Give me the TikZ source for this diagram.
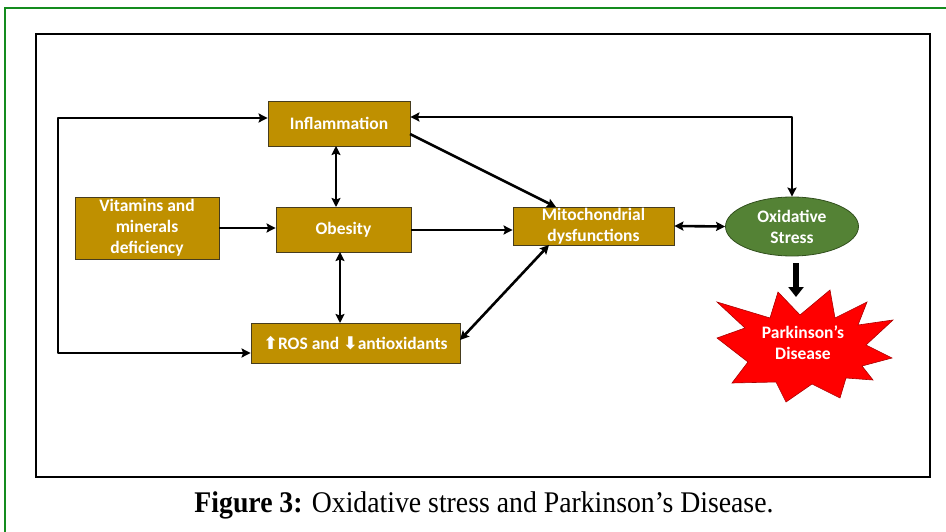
\documentclass[tikz,border=0pt]{standalone}
\usepackage{fontspec}
\setmainfont{Liberation Serif}
\newfontfamily\boxfont{Carlito}
\newfontfamily\symfont{DejaVu Sans}
\usetikzlibrary{arrows.meta,shapes.geometric}
\definecolor{goldbox}{RGB}{191,144,0}
\definecolor{boxedge}{RGB}{70,60,30}
\definecolor{ovalgreen}{RGB}{84,130,53}
\definecolor{ovaledge}{RGB}{50,80,30}
\definecolor{framegreen}{RGB}{20,140,30}
\definecolor{starred}{RGB}{255,0,0}
\definecolor{staredge}{RGB}{170,0,0}
\tikzset{
  boxtext/.style={text=white, font=\boxfont\bfseries\fontsize{17.5}{21}\selectfont, align=center},
  goldnode/.style={boxtext, draw=boxedge, line width=0.8pt, fill=goldbox, inner sep=0pt},
  tip/.tip={Stealth[length=9pt,width=9pt,inset=1.5pt]},
  conn/.style={line width=2.6pt, line join=round, -tip},
  bconn/.style={line width=2.6pt, line join=round, tip-tip},
}
\begin{document}
\begin{tikzpicture}[x=1pt,y=-1pt]
\useasboundingbox (0,0) rectangle (946,532);
% outer green frame
\draw[framegreen, line width=2.8pt] (5,532) -- (5,8) -- (946,8);
% black frame
\draw[black, line width=1.8pt] (36,34) rectangle (930,477);
\draw[black, line width=1.5pt] (36,33.5) -- (930,33.5);

% nodes
\node[goldnode, minimum width=142pt, minimum height=45pt] (infl) at (339,123.5) {Inflammation};
\node[goldnode, minimum width=144pt, minimum height=62pt] (vit) at (147,228) {Vitamins and\\minerals\\deficiency};
\node[goldnode, minimum width=135pt, minimum height=45pt] (obes) at (343.5,229.5) {Obesity};
\node[goldnode, minimum width=161pt, minimum height=38pt] (mito) at (593.5,226) {Mitochondrial\\dysfunctions};
\node[goldnode, minimum width=209pt, minimum height=40pt] (ros) at (355.5,343) {{\symfont ⬆}ROS and {\symfont ⬇}antioxidants};
\node[ellipse, boxtext, draw=ovaledge, line width=0.8pt, fill=ovalgreen, minimum width=133pt, minimum height=59pt, inner sep=0pt] (ox) at (792,226.5) {Oxidative\\Stress};

% star
\fill[starred, draw=staredge, line width=0.6pt]
  (717,302) -- (770,318) -- (778,292) -- (800,315) -- (830,290) -- (835,318)
  -- (867,302) -- (858,325) -- (893,320) -- (866,345) -- (892,358) -- (862,366)
  -- (873,380) -- (846,378) -- (840,398) -- (812,384) -- (786,402) -- (776,382)
  -- (732,383) -- (748,362) -- (717,338) -- (745,328) -- cycle;
\node[boxtext] (pd) at (803,343) {Parkinson’s\\Disease};

% connectors
\coordinate (lt) at (58,118);
\coordinate (lb) at (58,353);
\draw[bconn] (infl.west |- lt) -- (lt) -- (lb) -- (ros.west |- lb);
\draw[bconn] (336,146) -- (336,207);
\draw[bconn] (340,252) -- (340,323);
\draw[conn] (vit.east |- 0,228) -- (obes.west |- 0,228);
\draw[conn] (obes.east |- 0,230) -- (mito.west |- 0,230);
\draw[conn] (410,134) -- (556,207);
\draw[bconn] (460,340) -- (549,245);
\draw[bconn] (mito.east) -- (ox.west);
\coordinate (tr) at (792,117);
\draw[bconn] (infl.east |- tr) -- (tr) -- (ox.north);
\coordinate (ta) at (796,263);
\coordinate (tb) at (796,297);
\draw[line width=6pt, -{Triangle[length=10pt,width=15pt]}] (ta) -- (tb);

% caption
\node (cap) at (484,505) {\scalebox{0.925}[1]{\fontsize{30}{34}\selectfont\textbf{Figure 3:} Oxidative stress and Parkinson’s Disease.}};
\end{tikzpicture}
\end{document}
